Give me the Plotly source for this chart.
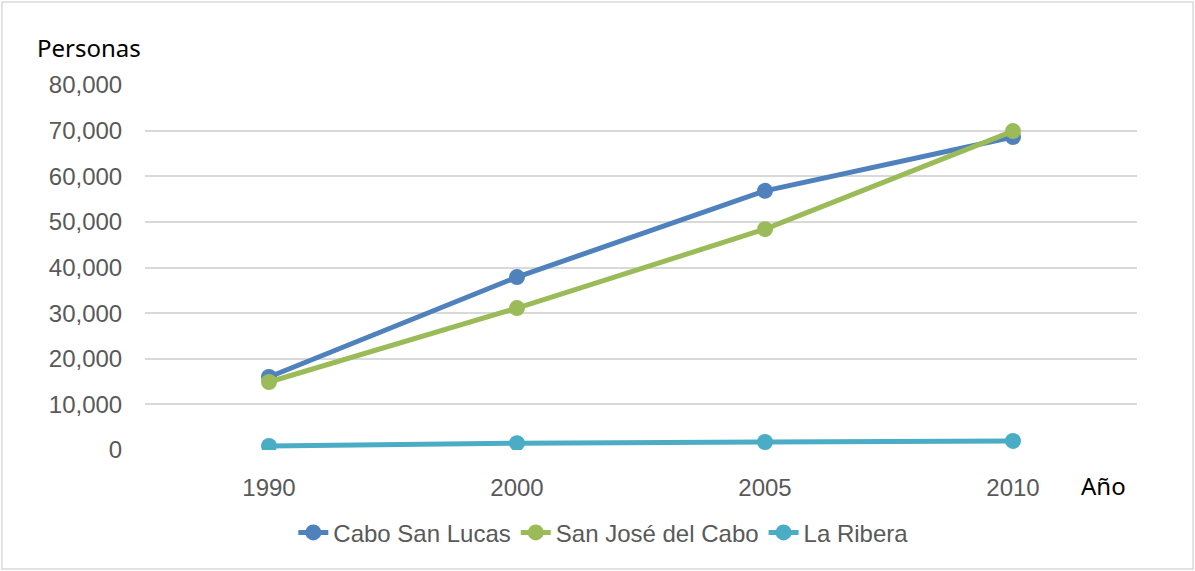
import plotly.graph_objects as go

years = ["1990", "2000", "2005", "2010"]
cabo_san_lucas = [16000, 37900, 56800, 68600]
san_jose_del_cabo = [14900, 31100, 48400, 69900]
la_ribera = [900, 1500, 1750, 2000]

series = [
    ("Cabo San Lucas", cabo_san_lucas, "#4F81BD"),
    ("San José del Cabo", san_jose_del_cabo, "#9BBB59"),
    ("La Ribera", la_ribera, "#4BACC6"),
]

fig = go.Figure()
for name, vals, color in series:
    fig.add_trace(go.Scatter(
        x=years, y=vals, name=name, mode="lines+markers",
        line=dict(color=color, width=5),
        marker=dict(color=color, size=16),
    ))

fig.update_layout(
    width=1195, height=571,
    margin=dict(l=145, r=58, t=85, b=121),
    paper_bgcolor="white", plot_bgcolor="white",
    font=dict(family="Liberation Sans, Arial", size=24, color="#595959"),
    showlegend=True,
    legend=dict(orientation="h", x=0.462, xanchor="center", y=-0.227, yanchor="middle",
                font=dict(size=24, color="#595959"),
                traceorder="normal"),
    xaxis=dict(type="category", range=[-0.5, 3.5], showgrid=False,
               showline=False, ticks="outside", ticklen=16,
               tickcolor="rgba(0,0,0,0)",
               tickfont=dict(size=24, color="#595959")),
    yaxis=dict(range=[0, 80000], dtick=10000, tickformat=",d",
               showgrid=True, gridcolor="#D9D9D9", gridwidth=1.5,
               zeroline=False, showline=False, ticks="outside", ticklen=17,
               tickcolor="rgba(0,0,0,0)",
               tickfont=dict(size=24, color="#595959")),
    annotations=[
        dict(text="Personas", xref="paper", yref="paper", x=-0.111, y=1.104,
             xanchor="left", yanchor="middle", showarrow=False,
             font=dict(family="Noto Sans", size=24, color="black")),
        dict(text="Año", xref="paper", yref="paper", x=0.9415, y=-0.096,
             xanchor="left", yanchor="middle", showarrow=False,
             font=dict(family="Noto Sans", size=24, color="black")),
    ],
    shapes=[dict(type="rect", xref="paper", yref="paper",
                 x0=-0.1442, x1=1.0565, y0=-0.326, y1=1.2274,
                 line=dict(color="#D9D9D9", width=1.5))],
)

fig.write_html("out.html", config={"displayModeBar": False},
               post_script="document.body.style.margin='0';")
